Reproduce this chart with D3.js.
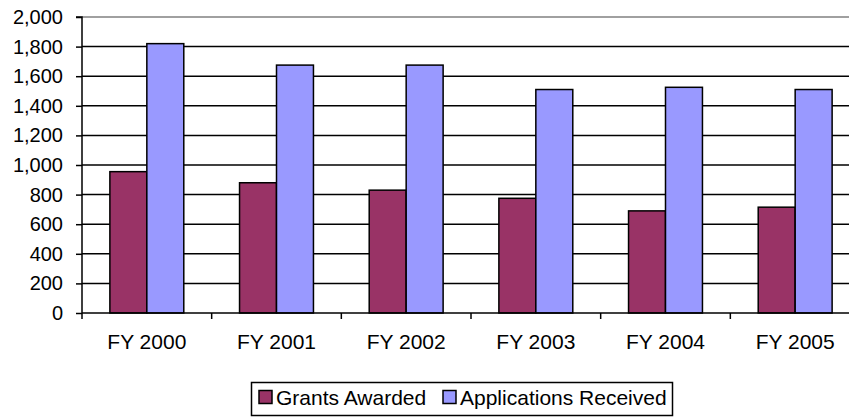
<!DOCTYPE html>
<html>
<head>
<meta charset="utf-8">
<script src="https://cdn.jsdelivr.net/npm/d3@7"></script>
<style>
  body { margin: 0; background: #fff; }
  text { font-family: "Liberation Sans", Arial, sans-serif; fill: #000; }
</style>
</head>
<body>
<div id="chart"></div>
<script>
// chart data
var years = ["FY 2000", "FY 2001", "FY 2002", "FY 2003", "FY 2004", "FY 2005"];
var seriesNames = ["Grants Awarded", "Applications Received"];
var grants = [955, 880, 830, 775, 690, 715];
var applications = [1820, 1675, 1675, 1510, 1525, 1510];
var yTicks = [0, 200, 400, 600, 800, 1000, 1200, 1400, 1600, 1800, 2000];
var colors = ["#993366", "#9999ff"];

var width = 849, height = 419;

// plot area (right side runs past the window edge, like the original)
var plotLeft = 82, plotRight = 860, plotTop = 17, plotBottom = 313;

var svg = d3.select("#chart")
  .append("svg")
  .attr("width", width)
  .attr("height", height);

var x0 = d3.scaleBand()
  .domain(years)
  .range([plotLeft, plotRight])
  .paddingInner(0.43)
  .paddingOuter(0.215);

var x1 = d3.scaleBand()
  .domain([0, 1])
  .range([0, x0.bandwidth()]);

var y = d3.scaleLinear()
  .domain([0, 2000])
  .range([plotBottom, plotTop]);

// gridlines
svg.append("g")
  .selectAll("line")
  .data(yTicks.filter(function(d) { return d > 0; }))
  .enter()
  .append("line")
  .attr("x1", plotLeft)
  .attr("x2", width)
  .attr("y1", function(d) { return y(d); })
  .attr("y2", function(d) { return y(d); })
  .attr("stroke", function(d) { return d === 2000 ? "#808080" : "#000"; })
  .attr("stroke-width", 1.5);

// bars
var groups = svg.selectAll("g.year")
  .data(years)
  .enter()
  .append("g")
  .attr("class", "year")
  .attr("transform", function(d) { return "translate(" + x0(d) + ",0)"; });

groups.selectAll("rect")
  .data(function(d, i) { return [grants[i], applications[i]]; })
  .enter()
  .append("rect")
  .attr("x", function(d, j) { return x1(j); })
  .attr("y", function(d) { return y(d); })
  .attr("width", x1.bandwidth())
  .attr("height", function(d) { return y(0) - y(d); })
  .attr("fill", function(d, j) { return colors[j]; })
  .attr("stroke", "#000")
  .attr("stroke-width", 1.5);

// y axis
var yAxis = d3.axisLeft(y)
  .tickValues(yTicks)
  .tickSize(6)
  .tickPadding(13)
  .tickFormat(d3.format(","));

var yG = svg.append("g")
  .attr("transform", "translate(" + plotLeft + ",0)")
  .call(yAxis);
yG.select(".domain").attr("stroke", "#000").attr("stroke-width", 1.5)
  .attr("d", "M-6," + y(2000) + "H0V" + y(0));
yG.selectAll(".tick line").attr("stroke", "#000").attr("stroke-width", 1.5);
yG.selectAll(".tick text")
  .style("font-size", "20px")
  .style("font-family", "'Liberation Sans', Arial, sans-serif")
  .attr("fill", "#000");

// x axis: ticks sit between the categories
var xG = svg.append("g")
  .attr("transform", "translate(0," + plotBottom + ")");
xG.append("line")
  .attr("x1", plotLeft)
  .attr("x2", width)
  .attr("stroke", "#000")
  .attr("stroke-width", 1.5);
xG.selectAll("line.tk")
  .data(d3.range(years.length + 1))
  .enter()
  .append("line")
  .attr("class", "tk")
  .attr("x1", function(i) { return plotLeft + i * x0.step(); })
  .attr("x2", function(i) { return plotLeft + i * x0.step(); })
  .attr("y1", 0)
  .attr("y2", 6)
  .attr("stroke", "#000")
  .attr("stroke-width", 1.5);
xG.selectAll("text")
  .data(years)
  .enter()
  .append("text")
  .attr("x", function(d) { return x0(d) + x0.bandwidth() / 2; })
  .attr("y", 35.5)
  .attr("text-anchor", "middle")
  .style("font-size", "21px")
  .text(function(d) { return d; });

// legend
var legend = svg.append("g");
legend.append("rect")
  .attr("x", 251.5)
  .attr("y", 382.5)
  .attr("width", 421)
  .attr("height", 33)
  .attr("fill", "#fff")
  .attr("stroke", "#000")
  .attr("stroke-width", 1.5);

var legendX = [259, 443];
seriesNames.forEach(function(name, i) {
  legend.append("rect")
    .attr("x", legendX[i])
    .attr("y", 390.5)
    .attr("width", 13)
    .attr("height", 13)
    .attr("fill", colors[i])
    .attr("stroke", "#000")
    .attr("stroke-width", 1.5);
  legend.append("text")
    .attr("x", legendX[i] + 17)
    .attr("y", 405)
    .style("font-size", "21px")
    .text(name);
});
</script>
</body>
</html>
